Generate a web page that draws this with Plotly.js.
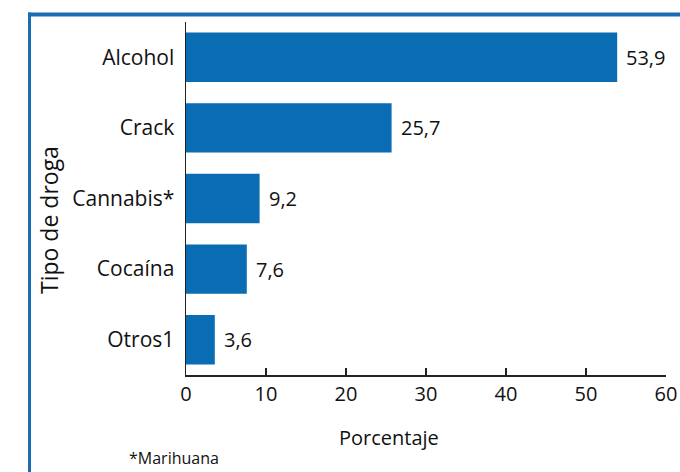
<!DOCTYPE html>
<html>
<head>
<meta charset="utf-8">
<script src="https://cdn.plot.ly/plotly-3.0.1.min.js"></script>
<style>html,body{margin:0;padding:0;background:#fff;}#chart{width:680px;height:472px;}</style>
</head>
<body>
<div id="chart"></div>
<script>
var categories = ["Alcohol", "Crack", "Cannabis*", "Cocaína", "Otros1"];
var values = [53.9, 25.7, 9.2, 7.6, 3.6];
var xTicks = [0, 10, 20, 30, 40, 50, 60];
var footnote = "*Marihuana";
var xTitle = "Porcentaje";
var yTitle = "Tipo de droga";

var FONT = "Open Sans, sans-serif";
var barColor = "#0a6db3";
var frameColor = "#1a6db3";
var TXT = '#111';

// pixel helpers (plot area: x 186..666, y 22..375)
var L = 186, R = 666, T = 22, B = 375;
function px(x){ return (x - L) / (R - L); }
function py(y){ return (B - y) / (B - T); }

var labels = values.map(function(v){ return v.toFixed(1).replace('.', ','); });

var trace = {
  type: 'bar',
  orientation: 'h',
  x: values,
  y: categories,
  width: 0.7,
  marker: {color: barColor, line: {width: 0}},
  hoverinfo: 'none'
};

var annotations = categories.map(function(c, i){
  return {x: values[i], y: c, xref: 'x', yref: 'y', text: labels[i], showarrow: false,
    xanchor: 'left', yanchor: 'middle', xshift: 7, font: {family: FONT, size: 20, color: TXT}};
});
annotations.push({x: px(127), y: py(471), xref: 'paper', yref: 'paper', text: footnote, showarrow: false,
  xanchor: 'left', yanchor: 'bottom', font: {family: FONT, size: 16, color: TXT}});
annotations.push({x: px(389), y: py(437), xref: 'paper', yref: 'paper', text: xTitle, showarrow: false,
  xanchor: 'center', yanchor: 'middle', font: {family: FONT, size: 20, color: TXT}});
annotations.push({x: px(49), y: py(220), xref: 'paper', yref: 'paper', text: yTitle, showarrow: false,
  textangle: -90, xanchor: 'center', yanchor: 'middle', font: {family: FONT, size: 23, color: TXT}});

var layout = {
  width: 680, height: 472,
  margin: {l: L, r: 680 - R, t: T, b: 472 - B},
  paper_bgcolor: '#fff', plot_bgcolor: '#fff',
  showlegend: false,
  font: {family: FONT, color: TXT},
  xaxis: {
    range: [0, 60], tickvals: xTicks, ticktext: xTicks.map(String),
    showgrid: false, zeroline: false, showline: true, linecolor: '#222', linewidth: 1.5,
    ticks: 'inside', ticklen: 7, tickcolor: '#222', tickwidth: 1.5,
    tickfont: {family: FONT, size: 20, color: TXT},
    fixedrange: true
  },
  yaxis: {
    type: 'category', autorange: false, range: [4.5, -0.5],
    showgrid: false, zeroline: false, showline: true, linecolor: '#222', linewidth: 1.5,
    ticks: '', ticklen: 0, ticklabelstandoff: 6,
    tickfont: {family: FONT, size: 21, color: TXT},
    automargin: false, fixedrange: true
  },
  annotations: annotations,
  shapes: [
    {type: 'line', xref: 'paper', yref: 'paper', x0: px(28), x1: px(700),
      y0: py(14.5), y1: py(14.5), line: {color: frameColor, width: 4}},
    {type: 'line', xref: 'paper', yref: 'paper', x0: px(29.5), x1: px(29.5),
      y0: py(500), y1: py(12.5), line: {color: frameColor, width: 3}}
  ]
};

Plotly.newPlot('chart', [trace], layout, {displayModeBar: false, staticPlot: true});
</script>
</body>
</html>
